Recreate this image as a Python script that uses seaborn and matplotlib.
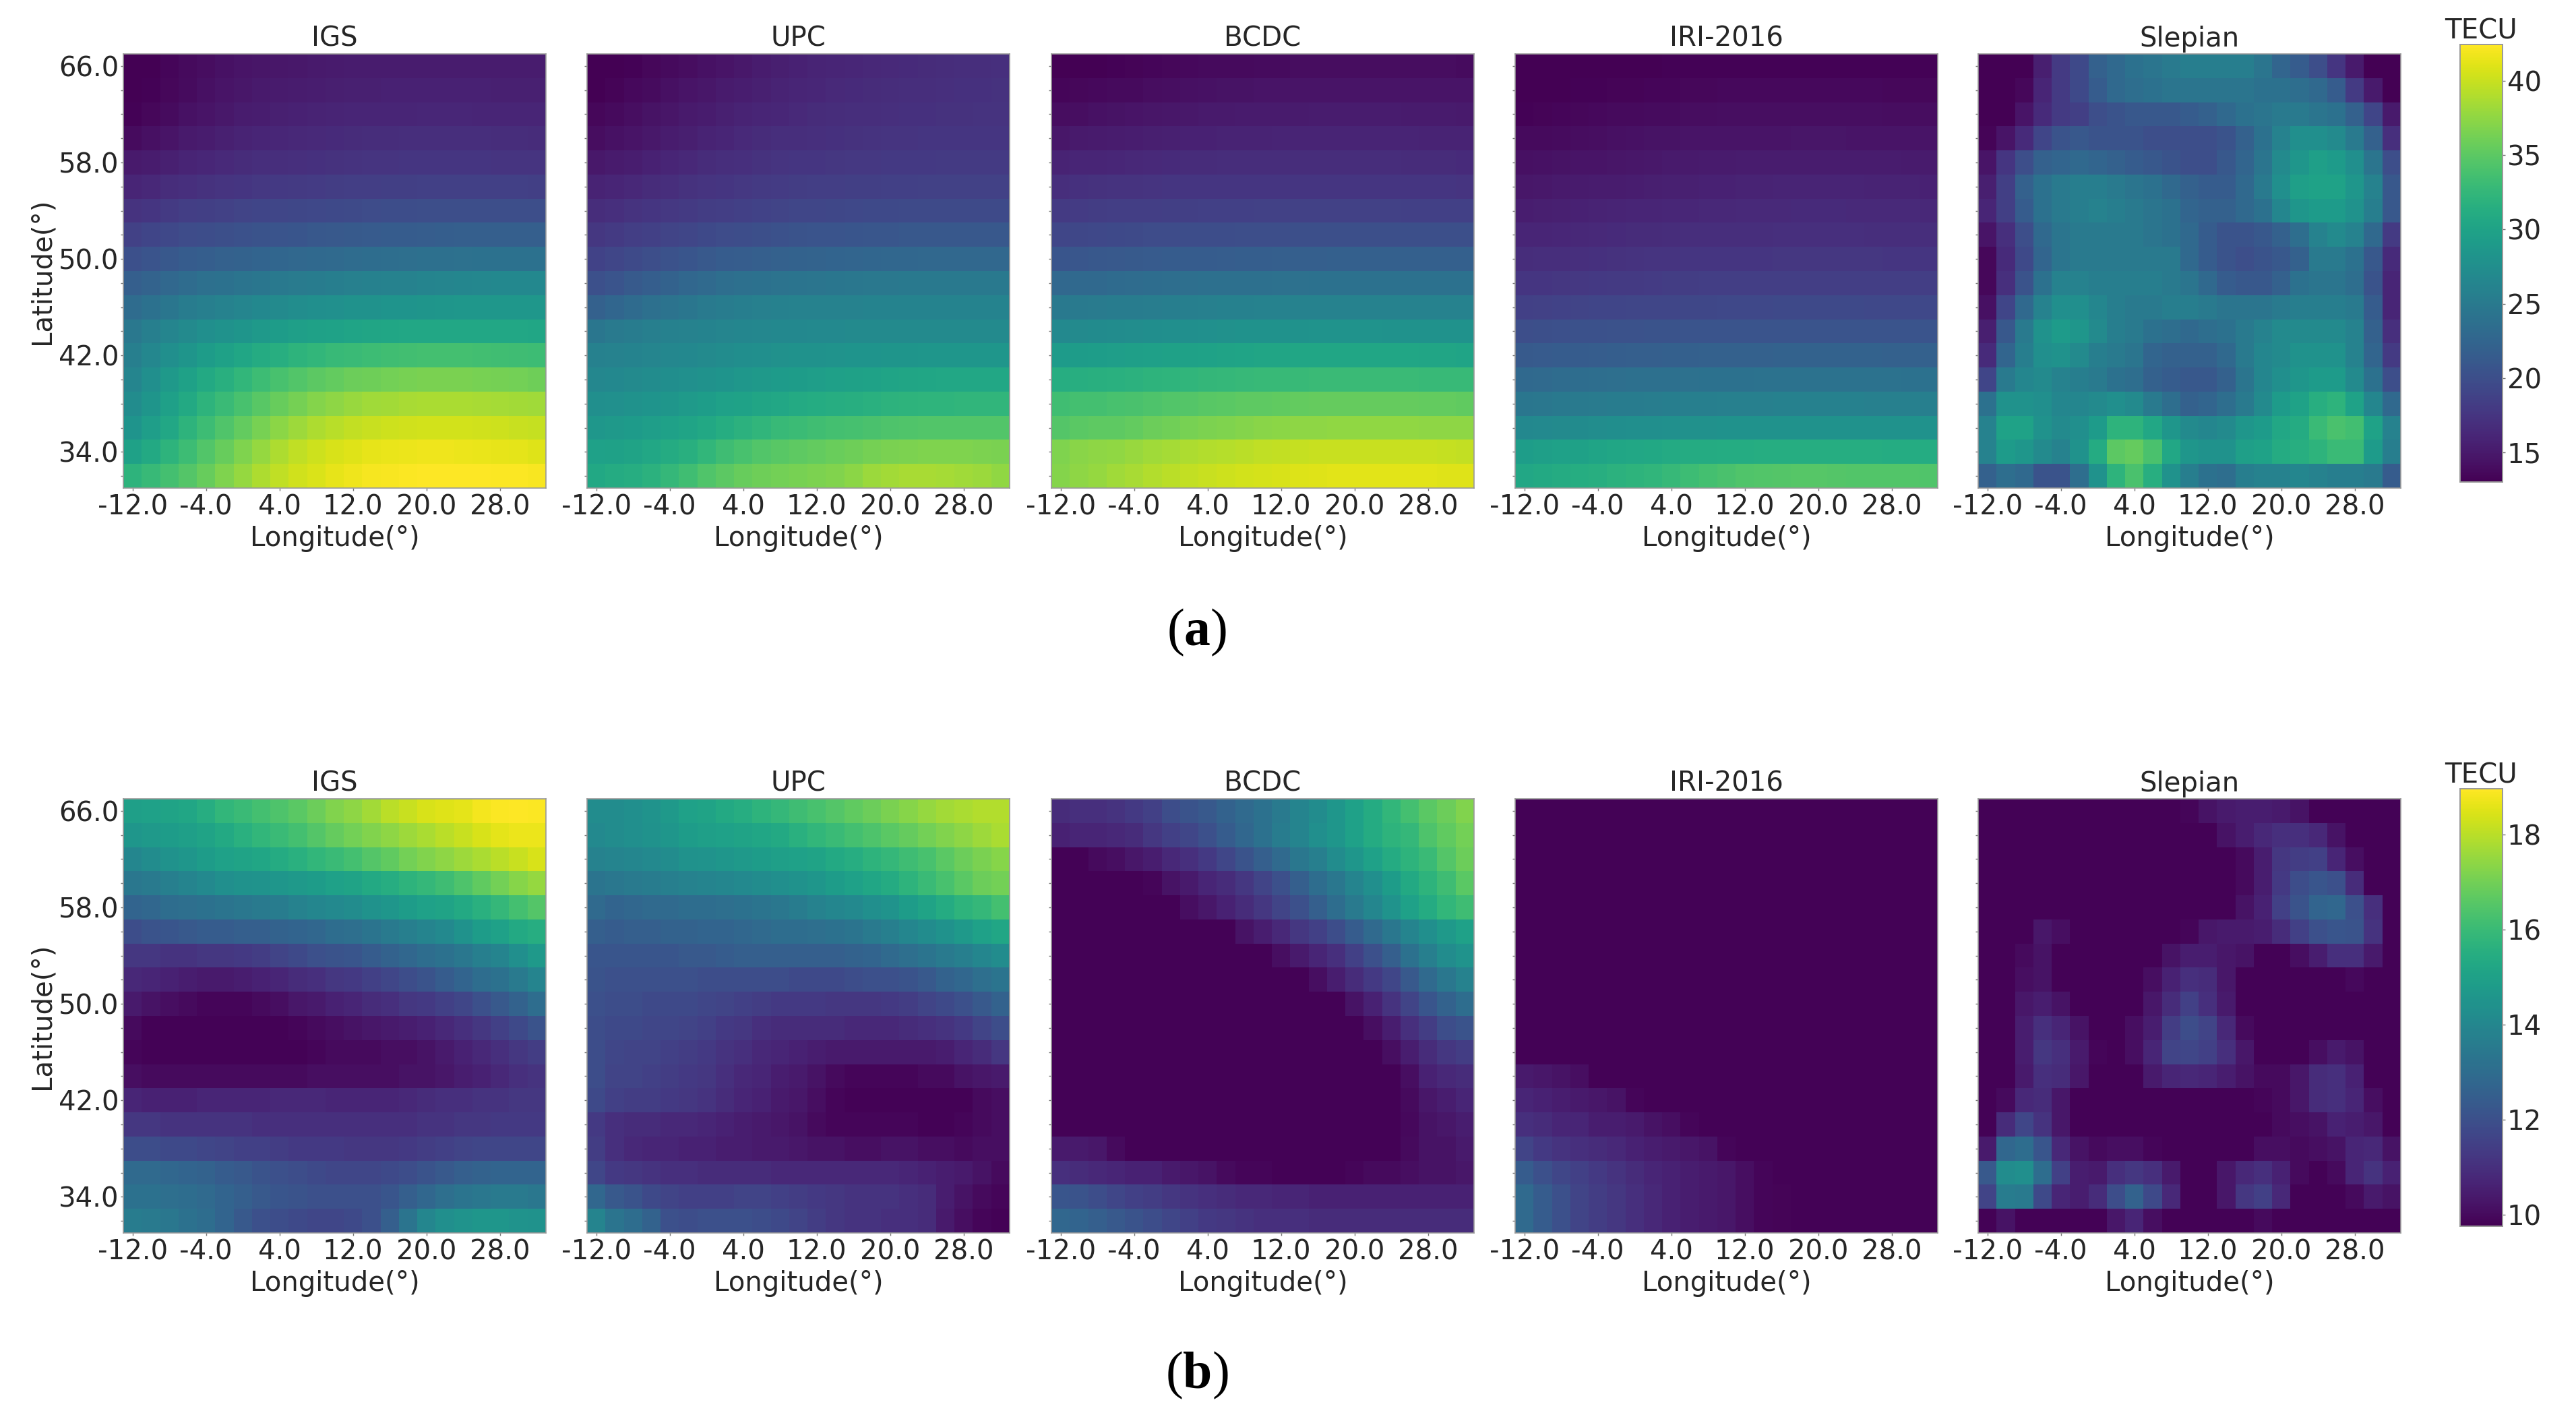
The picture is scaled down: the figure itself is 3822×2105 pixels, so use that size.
import matplotlib
matplotlib.use("Agg")
import matplotlib.pyplot as plt
import numpy as np
import pandas as pd
import seaborn as sns

sns.set_theme(style="white")
plt.rcParams["font.family"] = "DejaVu Sans"
plt.rcParams["mathtext.fontset"] = "custom"
plt.rcParams["mathtext.bf"] = "Liberation Serif:bold"
plt.rcParams["mathtext.rm"] = "Liberation Serif"

W, H = 3823, 2105
TEXT = "#262626"
FS = 29

LONS = [-12.0, -10.0, -8.0, -6.0, -4.0, -2.0, 0.0, 2.0, 4.0, 6.0, 8.0, 10.0, 12.0,
        14.0, 16.0, 18.0, 20.0, 22.0, 24.0, 26.0, 28.0, 30.0, 32.0]
LATS = [66.0, 64.0, 62.0, 60.0, 58.0, 56.0, 54.0, 52.0, 50.0, 48.0, 46.0, 44.0, 42.0,
        40.0, 38.0, 36.0, 34.0, 32.0]
TITLES = ["IGS", "UPC", "BCDC", "IRI-2016", "Slepian"]
CBAR_TICKS_A = [15, 20, 25, 30, 35, 40]
CBAR_TICKS_B = [10, 12, 14, 16, 18]

IGS_A = [
    [13.0, 13.1, 13.4, 13.7, 14.0, 14.3, 14.5, 14.7, 14.8, 14.9, 15.0, 15.1, 15.2, 15.2, 15.3, 15.3, 15.3, 15.3, 15.3, 15.3, 15.2, 15.2, 15.2],
    [13.0, 13.2, 13.5, 13.9, 14.2, 14.5, 14.8, 15.0, 15.1, 15.2, 15.4, 15.5, 15.6, 15.6, 15.7, 15.7, 15.7, 15.7, 15.7, 15.7, 15.6, 15.6, 15.6],
    [13.2, 13.5, 13.9, 14.3, 14.6, 14.9, 15.2, 15.4, 15.6, 15.7, 15.8, 15.9, 16.0, 16.1, 16.1, 16.1, 16.2, 16.2, 16.2, 16.1, 16.1, 16.1, 16.0],
    [13.9, 14.2, 14.6, 15.0, 15.3, 15.6, 15.8, 16.0, 16.2, 16.3, 16.4, 16.5, 16.6, 16.7, 16.7, 16.8, 16.8, 16.8, 16.8, 16.8, 16.7, 16.7, 16.6],
    [15.0, 15.3, 15.6, 15.9, 16.2, 16.4, 16.6, 16.8, 16.9, 17.0, 17.1, 17.2, 17.3, 17.4, 17.4, 17.5, 17.5, 17.5, 17.5, 17.5, 17.4, 17.4, 17.4],
    [16.0, 16.3, 16.7, 17.0, 17.2, 17.4, 17.6, 17.8, 17.9, 18.0, 18.1, 18.2, 18.3, 18.4, 18.5, 18.5, 18.6, 18.6, 18.6, 18.6, 18.6, 18.6, 18.5],
    [17.3, 17.6, 18.0, 18.3, 18.5, 18.7, 18.9, 19.0, 19.2, 19.3, 19.4, 19.5, 19.6, 19.7, 19.8, 19.9, 20.0, 20.0, 20.0, 20.0, 20.0, 20.0, 20.0],
    [18.7, 19.0, 19.4, 19.7, 19.9, 20.1, 20.3, 20.5, 20.7, 20.8, 21.0, 21.1, 21.2, 21.3, 21.4, 21.5, 21.6, 21.7, 21.8, 21.8, 21.8, 21.8, 21.8],
    [20.2, 20.6, 21.0, 21.4, 21.7, 22.0, 22.2, 22.4, 22.6, 22.8, 23.0, 23.1, 23.3, 23.4, 23.5, 23.6, 23.7, 23.8, 23.9, 24.0, 24.0, 24.0, 24.0],
    [21.8, 22.3, 22.8, 23.3, 23.7, 24.0, 24.3, 24.6, 24.9, 25.1, 25.3, 25.5, 25.7, 25.8, 26.0, 26.1, 26.3, 26.4, 26.5, 26.6, 26.7, 26.7, 26.7],
    [23.3, 24.0, 24.6, 25.2, 25.6, 26.0, 26.4, 26.7, 27.0, 27.3, 27.5, 27.7, 27.9, 28.0, 28.2, 28.3, 28.4, 28.5, 28.6, 28.6, 28.6, 28.6, 28.6],
    [24.8, 25.6, 26.4, 27.0, 27.5, 28.0, 28.4, 28.8, 29.2, 29.5, 29.8, 30.0, 30.2, 30.3, 30.4, 30.5, 30.6, 30.6, 30.6, 30.6, 30.5, 30.5, 30.4],
    [25.6, 26.6, 27.6, 28.4, 29.2, 29.8, 30.4, 31.0, 31.5, 32.0, 32.4, 32.8, 33.0, 33.2, 33.4, 33.5, 33.6, 33.6, 33.6, 33.5, 33.4, 33.3, 33.2],
    [26.4, 27.6, 28.8, 29.8, 30.8, 31.6, 32.4, 33.2, 33.9, 34.5, 35.0, 35.4, 35.8, 36.0, 36.2, 36.4, 36.5, 36.5, 36.5, 36.4, 36.3, 36.2, 36.0],
    [27.2, 28.4, 29.6, 30.8, 32.0, 33.0, 33.9, 34.8, 35.6, 36.3, 37.0, 37.5, 37.9, 38.2, 38.4, 38.6, 38.7, 38.7, 38.7, 38.6, 38.5, 38.4, 38.2],
    [28.2, 29.4, 30.6, 32.0, 33.2, 34.3, 35.4, 36.4, 37.3, 38.1, 38.8, 39.3, 39.7, 40.0, 40.2, 40.3, 40.4, 40.4, 40.4, 40.3, 40.2, 40.0, 39.9],
    [29.8, 30.8, 32.0, 33.2, 34.4, 35.6, 36.8, 37.8, 38.8, 39.6, 40.2, 40.7, 41.0, 41.3, 41.5, 41.6, 41.7, 41.7, 41.6, 41.5, 41.4, 41.2, 41.0],
    [32.0, 32.8, 33.6, 34.6, 35.6, 36.8, 37.8, 38.8, 39.6, 40.3, 40.8, 41.3, 41.7, 42.0, 42.2, 42.3, 42.4, 42.4, 42.4, 42.4, 42.3, 42.3, 42.2],
]
UPC_A = [
    [13.0, 13.0, 13.2, 13.5, 13.8, 14.0, 14.3, 14.6, 14.9, 15.2, 15.5, 15.7, 15.9, 16.1, 16.2, 16.3, 16.4, 16.5, 16.6, 16.7, 16.8, 16.9, 17.0],
    [13.1, 13.3, 13.6, 13.9, 14.2, 14.5, 14.8, 15.1, 15.4, 15.6, 15.8, 16.0, 16.2, 16.4, 16.5, 16.6, 16.7, 16.8, 16.9, 17.0, 17.1, 17.1, 17.2],
    [13.5, 13.8, 14.1, 14.4, 14.7, 15.0, 15.3, 15.6, 15.8, 16.0, 16.2, 16.4, 16.6, 16.7, 16.8, 16.9, 17.0, 17.1, 17.1, 17.2, 17.2, 17.3, 17.3],
    [14.0, 14.3, 14.6, 14.9, 15.2, 15.5, 15.8, 16.1, 16.4, 16.6, 16.8, 16.9, 17.0, 17.1, 17.2, 17.3, 17.4, 17.4, 17.5, 17.5, 17.5, 17.5, 17.6],
    [14.9, 15.1, 15.4, 15.7, 16.0, 16.3, 16.6, 16.8, 17.0, 17.2, 17.4, 17.5, 17.6, 17.7, 17.8, 17.8, 17.9, 17.9, 17.9, 18.0, 18.0, 18.0, 18.0],
    [15.8, 16.0, 16.3, 16.6, 16.9, 17.2, 17.4, 17.6, 17.8, 18.0, 18.1, 18.2, 18.3, 18.4, 18.5, 18.5, 18.6, 18.6, 18.7, 18.7, 18.7, 18.7, 18.7],
    [16.7, 17.0, 17.3, 17.6, 17.8, 18.0, 18.2, 18.4, 18.6, 18.8, 18.9, 19.1, 19.2, 19.3, 19.4, 19.5, 19.5, 19.6, 19.6, 19.6, 19.6, 19.6, 19.6],
    [17.7, 18.0, 18.3, 18.6, 18.9, 19.2, 19.5, 19.7, 19.9, 20.1, 20.3, 20.5, 20.6, 20.7, 20.8, 20.9, 20.9, 21.0, 21.0, 21.0, 21.0, 21.0, 21.0],
    [18.8, 19.2, 19.6, 20.0, 20.4, 20.8, 21.1, 21.4, 21.6, 21.8, 22.0, 22.1, 22.3, 22.4, 22.5, 22.6, 22.7, 22.7, 22.8, 22.8, 22.8, 22.8, 22.8],
    [20.2, 20.7, 21.2, 21.7, 22.2, 22.7, 23.1, 23.5, 23.8, 24.0, 24.2, 24.3, 24.5, 24.6, 24.7, 24.8, 24.8, 24.9, 24.9, 24.9, 24.9, 24.9, 24.9],
    [22.0, 22.6, 23.2, 23.7, 24.2, 24.6, 25.0, 25.3, 25.5, 25.7, 25.8, 25.9, 26.0, 26.1, 26.1, 26.2, 26.2, 26.2, 26.2, 26.2, 26.2, 26.2, 26.2],
    [24.6, 25.0, 25.3, 25.6, 25.8, 26.0, 26.2, 26.4, 26.5, 26.6, 26.7, 26.8, 26.9, 26.9, 27.0, 27.0, 27.0, 27.0, 27.0, 27.0, 27.0, 27.0, 27.0],
    [25.8, 26.0, 26.2, 26.4, 26.6, 26.8, 27.0, 27.2, 27.4, 27.6, 27.8, 27.9, 28.0, 28.1, 28.2, 28.3, 28.4, 28.4, 28.5, 28.5, 28.5, 28.5, 28.5],
    [26.6, 26.8, 27.0, 27.2, 27.4, 27.7, 28.0, 28.3, 28.6, 28.8, 29.0, 29.2, 29.4, 29.6, 29.8, 30.0, 30.2, 30.3, 30.4, 30.5, 30.5, 30.5, 30.5],
    [27.5, 27.7, 28.0, 28.2, 28.5, 28.9, 29.3, 29.7, 30.0, 30.3, 30.6, 30.9, 31.1, 31.3, 31.5, 31.7, 31.9, 32.0, 32.1, 32.2, 32.3, 32.3, 32.3],
    [28.6, 28.8, 29.1, 29.4, 29.7, 30.2, 30.7, 31.2, 31.8, 32.3, 32.8, 33.1, 33.4, 33.6, 33.8, 34.0, 34.2, 34.3, 34.4, 34.5, 34.5, 34.5, 34.5],
    [29.7, 29.9, 30.1, 30.5, 31.0, 31.6, 32.4, 33.3, 33.9, 34.4, 34.8, 35.1, 35.4, 35.7, 36.0, 36.3, 36.5, 36.6, 36.7, 36.7, 36.7, 36.6, 36.5],
    [30.7, 31.0, 31.3, 31.8, 32.6, 33.4, 34.3, 35.0, 35.6, 36.0, 36.2, 36.4, 36.6, 36.9, 37.3, 38.0, 38.4, 38.6, 38.6, 38.5, 38.2, 38.0, 37.6],
]
BCDC_A = [
    [13.0, 13.0, 13.1, 13.2, 13.3, 13.4, 13.5, 13.6, 13.7, 13.8, 13.8, 13.9, 13.9, 14.0, 14.0, 14.0, 14.0, 14.0, 14.0, 14.0, 14.0, 14.0, 13.9],
    [13.4, 13.5, 13.6, 13.7, 13.8, 14.0, 14.1, 14.2, 14.3, 14.4, 14.4, 14.5, 14.5, 14.5, 14.6, 14.6, 14.6, 14.6, 14.6, 14.6, 14.6, 14.5, 14.5],
    [14.0, 14.1, 14.3, 14.4, 14.5, 14.7, 14.8, 14.9, 15.0, 15.0, 15.1, 15.1, 15.1, 15.1, 15.2, 15.2, 15.2, 15.2, 15.2, 15.1, 15.1, 15.1, 15.0],
    [14.8, 15.0, 15.1, 15.3, 15.4, 15.5, 15.6, 15.7, 15.7, 15.8, 15.8, 15.8, 15.9, 15.9, 15.9, 15.9, 15.9, 15.9, 15.9, 15.9, 15.8, 15.8, 15.8],
    [15.8, 16.0, 16.1, 16.2, 16.3, 16.4, 16.5, 16.6, 16.6, 16.7, 16.7, 16.7, 16.7, 16.7, 16.7, 16.7, 16.7, 16.7, 16.7, 16.6, 16.6, 16.6, 16.5],
    [16.9, 17.1, 17.2, 17.3, 17.3, 17.4, 17.5, 17.5, 17.6, 17.6, 17.6, 17.6, 17.6, 17.6, 17.6, 17.6, 17.6, 17.6, 17.5, 17.5, 17.5, 17.5, 17.4],
    [18.0, 18.1, 18.2, 18.3, 18.4, 18.4, 18.5, 18.5, 18.6, 18.6, 18.6, 18.7, 18.7, 18.7, 18.7, 18.7, 18.7, 18.7, 18.7, 18.6, 18.6, 18.6, 18.6],
    [19.2, 19.3, 19.4, 19.5, 19.6, 19.7, 19.7, 19.8, 19.9, 19.9, 20.0, 20.0, 20.0, 20.1, 20.1, 20.1, 20.1, 20.1, 20.1, 20.1, 20.1, 20.1, 20.1],
    [20.8, 20.9, 21.0, 21.1, 21.2, 21.3, 21.4, 21.5, 21.5, 21.6, 21.7, 21.7, 21.8, 21.8, 21.8, 21.9, 21.9, 21.9, 21.9, 21.9, 21.9, 21.9, 21.9],
    [22.8, 22.9, 23.0, 23.2, 23.3, 23.4, 23.5, 23.6, 23.7, 23.7, 23.8, 23.8, 23.9, 23.9, 24.0, 24.0, 24.0, 24.0, 24.0, 24.0, 24.0, 24.0, 24.0],
    [24.9, 25.0, 25.1, 25.2, 25.3, 25.4, 25.5, 25.6, 25.7, 25.8, 25.8, 25.9, 25.9, 26.0, 26.0, 26.0, 26.1, 26.1, 26.1, 26.0, 26.0, 26.0, 26.0],
    [26.9, 27.0, 27.1, 27.2, 27.3, 27.4, 27.5, 27.6, 27.7, 27.8, 27.9, 27.9, 28.0, 28.0, 28.1, 28.1, 28.1, 28.1, 28.0, 28.0, 28.0, 28.0, 27.9],
    [29.1, 29.2, 29.3, 29.4, 29.5, 29.6, 29.8, 29.9, 30.0, 30.1, 30.2, 30.3, 30.3, 30.4, 30.4, 30.4, 30.4, 30.4, 30.4, 30.4, 30.3, 30.3, 30.2],
    [31.3, 31.5, 31.6, 31.7, 31.8, 32.0, 32.2, 32.3, 32.5, 32.6, 32.7, 32.8, 32.9, 32.9, 33.0, 33.0, 33.0, 33.0, 33.0, 33.0, 32.9, 32.9, 32.8],
    [33.4, 33.6, 33.7, 33.9, 34.0, 34.2, 34.4, 34.6, 34.8, 34.9, 35.1, 35.2, 35.3, 35.4, 35.5, 35.5, 35.5, 35.5, 35.5, 35.5, 35.4, 35.4, 35.3],
    [34.6, 34.9, 35.1, 35.2, 35.4, 35.8, 36.1, 36.4, 36.6, 36.8, 37.0, 37.2, 37.3, 37.4, 37.5, 37.6, 37.6, 37.6, 37.6, 37.6, 37.5, 37.5, 37.4],
    [36.8, 37.2, 37.4, 37.6, 37.9, 38.2, 38.5, 38.8, 39.0, 39.2, 39.4, 39.6, 39.7, 39.9, 40.0, 40.0, 40.0, 40.0, 40.0, 40.0, 40.0, 39.9, 39.8],
    [37.0, 37.4, 37.8, 38.2, 38.6, 39.0, 39.4, 39.7, 40.0, 40.2, 40.4, 40.6, 40.7, 40.9, 41.0, 41.1, 41.1, 41.1, 41.1, 41.1, 41.1, 41.0, 41.0],
]
IRI_A = [
    [13.0, 13.0, 13.0, 13.0, 13.0, 13.1, 13.1, 13.1, 13.2, 13.2, 13.2, 13.2, 13.2, 13.2, 13.2, 13.2, 13.2, 13.2, 13.2, 13.2, 13.2, 13.2, 13.2],
    [13.1, 13.1, 13.1, 13.2, 13.2, 13.3, 13.3, 13.4, 13.4, 13.5, 13.5, 13.6, 13.6, 13.6, 13.6, 13.6, 13.6, 13.6, 13.6, 13.6, 13.5, 13.5, 13.5],
    [13.2, 13.3, 13.4, 13.5, 13.6, 13.7, 13.8, 13.9, 13.9, 14.0, 14.0, 14.1, 14.1, 14.1, 14.1, 14.1, 14.1, 14.1, 14.1, 14.1, 14.0, 14.0, 14.0],
    [13.7, 13.8, 13.9, 14.0, 14.1, 14.2, 14.3, 14.4, 14.4, 14.5, 14.5, 14.6, 14.6, 14.6, 14.6, 14.7, 14.7, 14.7, 14.6, 14.6, 14.6, 14.6, 14.5],
    [14.2, 14.3, 14.4, 14.5, 14.6, 14.7, 14.8, 14.9, 15.0, 15.0, 15.1, 15.1, 15.2, 15.2, 15.2, 15.2, 15.3, 15.2, 15.2, 15.2, 15.2, 15.1, 15.1],
    [14.8, 14.9, 15.0, 15.1, 15.2, 15.3, 15.4, 15.5, 15.6, 15.6, 15.7, 15.7, 15.8, 15.8, 15.9, 15.9, 15.9, 15.9, 15.9, 15.8, 15.8, 15.8, 15.7],
    [15.4, 15.5, 15.6, 15.7, 15.8, 15.9, 16.0, 16.1, 16.2, 16.2, 16.3, 16.3, 16.4, 16.4, 16.4, 16.5, 16.5, 16.5, 16.4, 16.4, 16.4, 16.4, 16.3],
    [16.0, 16.1, 16.2, 16.3, 16.4, 16.5, 16.6, 16.6, 16.7, 16.8, 16.8, 16.9, 16.9, 16.9, 17.0, 17.0, 17.0, 17.0, 17.0, 16.9, 16.9, 16.9, 16.8],
    [16.7, 16.8, 16.9, 17.0, 17.1, 17.2, 17.3, 17.4, 17.4, 17.5, 17.5, 17.6, 17.6, 17.6, 17.7, 17.7, 17.7, 17.7, 17.7, 17.7, 17.6, 17.6, 17.6],
    [17.5, 17.6, 17.7, 17.8, 17.9, 18.0, 18.0, 18.1, 18.2, 18.2, 18.3, 18.3, 18.3, 18.4, 18.4, 18.4, 18.4, 18.4, 18.4, 18.4, 18.4, 18.3, 18.3],
    [18.6, 18.7, 18.8, 18.9, 19.0, 19.0, 19.1, 19.2, 19.2, 19.3, 19.3, 19.4, 19.4, 19.4, 19.5, 19.5, 19.5, 19.5, 19.5, 19.4, 19.4, 19.4, 19.4],
    [20.0, 20.1, 20.2, 20.3, 20.3, 20.4, 20.4, 20.5, 20.5, 20.6, 20.6, 20.6, 20.7, 20.7, 20.7, 20.7, 20.7, 20.7, 20.7, 20.7, 20.7, 20.7, 20.6],
    [21.2, 21.3, 21.4, 21.5, 21.6, 21.7, 21.8, 21.8, 21.9, 21.9, 22.0, 22.0, 22.0, 22.0, 22.1, 22.1, 22.1, 22.1, 22.1, 22.1, 22.0, 22.0, 22.0],
    [23.0, 23.1, 23.3, 23.4, 23.5, 23.6, 23.7, 23.8, 23.8, 23.9, 24.0, 24.0, 24.0, 24.1, 24.1, 24.1, 24.1, 24.1, 24.1, 24.1, 24.1, 24.0, 24.0],
    [24.6, 24.7, 24.9, 25.0, 25.1, 25.2, 25.3, 25.4, 25.5, 25.6, 25.6, 25.7, 25.7, 25.7, 25.8, 25.8, 25.8, 25.8, 25.8, 25.7, 25.7, 25.7, 25.6],
    [26.8, 26.9, 27.0, 27.1, 27.3, 27.4, 27.5, 27.6, 27.7, 27.8, 27.8, 27.9, 27.9, 28.0, 28.0, 28.0, 28.0, 28.0, 28.0, 28.0, 28.0, 27.9, 27.9],
    [29.3, 29.5, 29.7, 29.9, 30.2, 30.4, 30.6, 30.7, 30.9, 31.0, 31.0, 31.1, 31.1, 31.2, 31.2, 31.2, 31.2, 31.2, 31.2, 31.2, 31.1, 31.1, 31.1],
    [30.6, 30.8, 31.0, 31.2, 31.5, 31.8, 32.0, 32.3, 32.7, 33.2, 33.6, 34.0, 34.3, 34.5, 34.6, 34.7, 34.7, 34.6, 34.5, 34.5, 34.4, 34.4, 34.3],
]
SLEPIAN_A = [
    [13.0, 13.0, 13.0, 15.5, 18.0, 19.5, 22.0, 23.0, 24.0, 24.5, 25.0, 25.5, 25.5, 25.5, 25.5, 24.5, 22.5, 21.5, 20.0, 17.5, 15.0, 13.0, 13.0],
    [13.0, 13.0, 13.5, 16.0, 18.0, 19.5, 21.5, 23.0, 23.5, 24.0, 24.5, 24.5, 24.5, 24.5, 24.5, 24.0, 24.0, 23.5, 23.0, 21.5, 18.0, 15.0, 13.0],
    [13.0, 13.0, 14.5, 16.5, 18.0, 18.5, 20.0, 20.5, 21.0, 21.0, 21.0, 21.5, 22.0, 23.0, 24.0, 24.5, 25.0, 25.0, 24.5, 24.0, 22.0, 19.0, 15.0],
    [13.3, 14.5, 16.5, 19.0, 20.5, 21.0, 20.5, 20.5, 20.5, 20.0, 20.0, 20.0, 20.0, 20.5, 22.0, 24.0, 26.0, 27.5, 27.5, 27.0, 25.0, 22.0, 17.0],
    [14.5, 17.5, 20.0, 22.0, 22.5, 23.0, 22.5, 22.0, 21.5, 21.0, 20.5, 20.0, 20.0, 21.0, 22.5, 24.5, 27.0, 28.5, 29.5, 29.0, 27.5, 24.5, 20.0],
    [15.5, 18.5, 22.0, 24.0, 25.0, 25.5, 25.5, 25.0, 24.5, 24.0, 23.0, 22.0, 21.5, 21.5, 23.0, 25.0, 27.5, 29.5, 30.0, 30.0, 28.5, 26.0, 21.0],
    [16.0, 18.5, 21.5, 24.0, 25.0, 25.5, 26.0, 25.5, 25.0, 24.5, 24.0, 22.5, 22.0, 22.0, 23.0, 24.0, 26.5, 28.5, 29.0, 29.0, 28.0, 25.5, 21.0],
    [14.5, 17.0, 20.0, 23.0, 24.5, 25.0, 25.0, 25.0, 25.0, 24.5, 24.0, 23.0, 21.5, 20.5, 20.5, 21.0, 22.0, 23.5, 26.0, 27.0, 26.0, 23.0, 18.0],
    [13.5, 16.5, 19.5, 22.5, 24.5, 25.0, 25.0, 25.0, 25.0, 25.0, 25.0, 23.0, 21.5, 20.5, 20.0, 20.5, 21.0, 22.0, 25.0, 25.0, 24.0, 21.0, 16.5],
    [13.5, 17.0, 20.5, 24.0, 26.0, 26.0, 25.5, 25.5, 25.5, 25.5, 25.0, 24.5, 23.0, 21.5, 21.0, 21.0, 22.0, 24.0, 24.5, 24.5, 23.5, 20.5, 16.0],
    [14.2, 19.0, 23.0, 26.0, 27.5, 27.5, 26.5, 25.5, 25.0, 25.0, 25.5, 25.5, 25.0, 24.5, 24.5, 24.5, 25.0, 25.5, 25.5, 25.5, 25.0, 21.5, 16.0],
    [15.5, 21.0, 25.0, 28.0, 29.0, 28.5, 27.0, 25.5, 25.0, 24.0, 23.5, 23.0, 23.5, 24.0, 25.0, 26.0, 27.0, 27.0, 27.0, 27.0, 26.0, 22.0, 17.0],
    [16.5, 22.5, 25.5, 27.5, 28.0, 27.0, 25.5, 25.0, 24.5, 22.5, 22.0, 22.0, 22.0, 23.0, 25.0, 26.5, 27.0, 28.0, 28.0, 28.0, 26.0, 22.5, 18.0],
    [19.0, 25.0, 26.5, 27.0, 26.0, 25.5, 25.0, 24.0, 23.5, 22.0, 21.5, 21.0, 21.0, 22.0, 24.5, 26.5, 27.5, 28.5, 29.0, 29.0, 27.0, 24.0, 20.0],
    [24.0, 28.0, 28.0, 27.5, 26.5, 26.5, 27.0, 27.5, 27.0, 25.0, 23.5, 22.0, 22.5, 23.5, 25.0, 27.0, 29.0, 30.0, 31.5, 32.0, 30.0, 26.5, 23.0],
    [26.0, 30.0, 30.0, 28.0, 27.0, 27.5, 29.0, 32.0, 32.0, 30.5, 28.5, 27.0, 26.5, 27.0, 28.5, 29.0, 30.5, 31.0, 33.0, 34.0, 33.5, 30.0, 26.0],
    [26.0, 29.0, 28.5, 27.0, 26.0, 28.0, 31.0, 35.0, 35.5, 34.0, 30.5, 28.5, 28.0, 28.0, 29.5, 30.0, 31.0, 31.5, 32.0, 33.0, 33.0, 29.0, 25.5],
    [22.0, 23.5, 23.0, 20.5, 20.5, 23.5, 28.0, 32.0, 34.0, 31.5, 28.0, 25.5, 24.0, 23.5, 25.5, 26.0, 26.0, 26.5, 26.0, 25.5, 25.5, 25.0, 21.5],
]

IGS_B = [
    [14.9, 15.0, 15.1, 15.2, 15.5, 15.8, 16.0, 16.2, 16.4, 16.6, 16.9, 17.2, 17.4, 17.7, 18.0, 18.2, 18.4, 18.5, 18.6, 18.8, 18.9, 18.95, 18.9],
    [14.6, 14.7, 14.8, 14.9, 15.1, 15.3, 15.6, 15.8, 16.0, 16.2, 16.5, 16.8, 17.0, 17.2, 17.4, 17.6, 17.8, 18.0, 18.2, 18.4, 18.6, 18.7, 18.7],
    [14.0, 14.2, 14.4, 14.6, 14.8, 15.0, 15.1, 15.2, 15.4, 15.6, 15.8, 16.0, 16.2, 16.5, 16.7, 17.0, 17.2, 17.4, 17.6, 17.8, 18.0, 18.2, 18.4],
    [13.4, 13.5, 13.7, 13.9, 14.1, 14.3, 14.4, 14.5, 14.6, 14.7, 14.8, 15.0, 15.1, 15.3, 15.5, 15.7, 15.9, 16.1, 16.4, 16.7, 17.0, 17.3, 17.5],
    [12.7, 12.8, 13.0, 13.1, 13.2, 13.3, 13.4, 13.5, 13.6, 13.8, 14.0, 14.1, 14.2, 14.4, 14.6, 14.8, 15.0, 15.1, 15.3, 15.6, 15.9, 16.2, 16.5],
    [11.9, 12.1, 12.2, 12.3, 12.4, 12.4, 12.5, 12.5, 12.6, 12.7, 12.8, 13.0, 13.1, 13.3, 13.5, 13.7, 13.9, 14.1, 14.4, 14.8, 15.0, 15.3, 15.5],
    [11.2, 11.2, 11.1, 11.1, 11.2, 11.2, 11.3, 11.4, 11.6, 11.8, 12.0, 12.1, 12.2, 12.4, 12.6, 12.8, 13.0, 13.2, 13.4, 13.7, 13.9, 14.3, 14.7],
    [10.8, 10.7, 10.6, 10.5, 10.4, 10.4, 10.5, 10.6, 10.7, 10.9, 11.0, 11.2, 11.3, 11.5, 11.7, 11.9, 12.1, 12.4, 12.7, 13.0, 13.2, 13.5, 13.9],
    [10.4, 10.2, 10.1, 10.0, 9.9, 9.9, 9.9, 10.0, 10.1, 10.3, 10.4, 10.6, 10.7, 10.9, 11.0, 11.2, 11.3, 11.5, 11.7, 12.0, 12.3, 12.6, 13.0],
    [10.0, 9.8, 9.8, 9.8, 9.8, 9.8, 9.8, 9.8, 9.8, 9.9, 10.0, 10.1, 10.2, 10.3, 10.4, 10.5, 10.6, 10.8, 11.0, 11.2, 11.5, 11.8, 12.1],
    [9.9, 9.8, 9.8, 9.8, 9.8, 9.8, 9.8, 9.8, 9.8, 9.8, 9.9, 10.0, 10.0, 10.0, 10.1, 10.1, 10.2, 10.4, 10.6, 10.8, 11.0, 11.2, 11.4],
    [10.1, 10.0, 10.0, 10.0, 10.0, 10.0, 10.0, 10.0, 10.0, 10.0, 10.1, 10.1, 10.1, 10.1, 10.1, 10.2, 10.2, 10.3, 10.5, 10.6, 10.8, 11.0, 11.1],
    [10.7, 10.6, 10.6, 10.6, 10.7, 10.7, 10.7, 10.7, 10.8, 10.8, 10.8, 10.7, 10.7, 10.7, 10.7, 10.8, 10.9, 11.0, 11.0, 11.1, 11.1, 11.2, 11.2],
    [11.2, 11.2, 11.1, 11.1, 11.1, 11.1, 11.1, 11.0, 11.0, 11.0, 11.0, 11.0, 11.0, 11.0, 11.0, 11.0, 11.1, 11.1, 11.2, 11.2, 11.3, 11.3, 11.3],
    [11.9, 11.9, 11.8, 11.8, 11.7, 11.6, 11.5, 11.5, 11.4, 11.3, 11.3, 11.3, 11.2, 11.2, 11.2, 11.3, 11.4, 11.5, 11.6, 11.7, 11.7, 11.7, 11.7],
    [12.9, 12.9, 12.8, 12.7, 12.6, 12.4, 12.3, 12.1, 12.0, 11.9, 11.8, 11.7, 11.7, 11.7, 11.8, 11.9, 12.1, 12.3, 12.5, 12.6, 12.7, 12.7, 12.7],
    [13.2, 13.2, 13.1, 13.0, 12.9, 12.7, 12.5, 12.3, 12.2, 12.1, 12.0, 12.0, 12.0, 12.0, 12.2, 12.5, 12.8, 13.1, 13.3, 13.4, 13.5, 13.5, 13.4],
    [13.6, 13.5, 13.4, 13.2, 13.0, 12.7, 12.3, 12.0, 11.9, 11.8, 11.7, 11.7, 11.8, 12.0, 12.5, 13.3, 14.0, 14.3, 14.5, 14.6, 14.6, 14.5, 14.4],
]
UPC_B = [
    [14.2, 14.2, 14.3, 14.5, 14.7, 15.0, 15.1, 15.3, 15.5, 15.7, 15.9, 16.1, 16.3, 16.5, 16.7, 16.9, 17.1, 17.3, 17.5, 17.7, 17.8, 17.9, 17.9],
    [14.1, 14.2, 14.3, 14.4, 14.6, 14.8, 14.9, 15.0, 15.1, 15.2, 15.3, 15.6, 15.8, 16.0, 16.2, 16.4, 16.6, 16.8, 17.0, 17.2, 17.4, 17.6, 17.8],
    [13.8, 13.9, 14.0, 14.1, 14.2, 14.4, 14.5, 14.6, 14.7, 14.8, 14.9, 15.0, 15.1, 15.3, 15.5, 15.7, 15.9, 16.1, 16.3, 16.6, 16.9, 17.1, 17.3],
    [13.3, 13.4, 13.5, 13.6, 13.7, 13.8, 13.9, 14.0, 14.1, 14.2, 14.3, 14.4, 14.6, 14.8, 15.0, 15.2, 15.4, 15.7, 16.0, 16.3, 16.6, 16.9, 17.0],
    [12.9, 12.7, 12.8, 12.9, 12.9, 13.0, 13.0, 13.1, 13.2, 13.3, 13.4, 13.6, 13.8, 14.0, 14.1, 14.3, 14.5, 14.8, 15.1, 15.4, 15.7, 15.9, 16.2],
    [12.5, 12.4, 12.5, 12.5, 12.6, 12.6, 12.7, 12.7, 12.8, 12.9, 13.0, 13.0, 13.1, 13.2, 13.3, 13.5, 13.7, 14.0, 14.2, 14.4, 14.7, 15.0, 15.2],
    [12.2, 12.2, 12.2, 12.2, 12.2, 12.3, 12.3, 12.4, 12.5, 12.5, 12.5, 12.5, 12.5, 12.5, 12.6, 12.7, 12.9, 13.1, 13.3, 13.5, 13.7, 14.0, 14.2],
    [12.1, 12.0, 12.0, 12.0, 12.0, 12.0, 11.9, 11.9, 11.9, 11.9, 11.9, 11.8, 11.8, 11.8, 11.9, 12.0, 12.0, 12.1, 12.3, 12.6, 12.8, 13.1, 13.3],
    [12.0, 11.9, 11.9, 11.8, 11.8, 11.8, 11.7, 11.6, 11.5, 11.4, 11.3, 11.3, 11.3, 11.2, 11.2, 11.2, 11.3, 11.4, 11.6, 11.8, 12.0, 12.3, 12.6],
    [11.9, 11.8, 11.8, 11.7, 11.7, 11.6, 11.5, 11.3, 11.2, 11.0, 10.9, 10.9, 10.9, 10.9, 10.8, 10.8, 10.8, 10.9, 11.0, 11.1, 11.3, 11.6, 11.9],
    [11.9, 11.7, 11.6, 11.6, 11.5, 11.4, 11.3, 11.1, 11.0, 10.8, 10.7, 10.6, 10.5, 10.4, 10.4, 10.4, 10.4, 10.4, 10.4, 10.5, 10.7, 10.9, 11.2],
    [11.9, 11.6, 11.6, 11.5, 11.4, 11.3, 11.2, 11.0, 10.8, 10.7, 10.5, 10.4, 10.2, 10.0, 9.9, 9.9, 9.9, 9.9, 10.0, 10.0, 10.2, 10.3, 10.4],
    [11.8, 11.5, 11.4, 11.4, 11.3, 11.2, 11.1, 10.9, 10.7, 10.6, 10.4, 10.3, 10.1, 9.9, 9.8, 9.8, 9.8, 9.8, 9.8, 9.8, 9.8, 10.0, 10.1],
    [11.3, 11.0, 10.9, 10.9, 10.8, 10.8, 10.7, 10.6, 10.5, 10.4, 10.3, 10.2, 10.0, 9.9, 9.9, 9.9, 9.9, 9.9, 9.8, 9.8, 9.9, 10.0, 10.1],
    [11.4, 11.0, 10.8, 10.7, 10.7, 10.6, 10.6, 10.5, 10.5, 10.4, 10.4, 10.3, 10.2, 10.2, 10.1, 10.1, 10.2, 10.2, 10.1, 10.1, 10.0, 10.1, 10.1],
    [11.7, 11.3, 11.2, 11.1, 11.0, 11.0, 10.9, 10.9, 10.9, 10.9, 10.8, 10.8, 10.8, 10.8, 10.8, 10.8, 10.8, 10.7, 10.6, 10.5, 10.4, 10.2, 10.0],
    [12.8, 12.3, 12.1, 11.8, 11.6, 11.5, 11.5, 11.5, 11.6, 11.6, 11.5, 11.4, 11.3, 11.2, 11.1, 11.1, 11.1, 11.0, 10.9, 10.5, 10.2, 10.0, 9.9],
    [13.9, 13.3, 13.0, 12.6, 12.0, 11.9, 12.0, 12.0, 12.0, 11.9, 11.8, 11.6, 11.4, 11.2, 11.1, 11.1, 11.0, 11.0, 10.9, 10.4, 10.1, 9.9, 9.8],
]
BCDC_B = [
    [10.9, 11.0, 11.0, 11.1, 11.3, 11.5, 11.9, 12.1, 12.3, 12.6, 12.9, 13.2, 13.5, 13.9, 14.2, 14.6, 15.0, 15.4, 15.8, 16.2, 16.6, 16.9, 17.2],
    [10.6, 10.7, 10.7, 10.8, 10.9, 11.2, 11.5, 11.7, 12.0, 12.4, 12.8, 13.2, 13.6, 13.9, 14.3, 14.6, 15.0, 15.4, 15.7, 15.9, 16.4, 16.7, 17.0],
    [9.8] * 2 + [10.0, 10.1, 10.3, 10.5, 10.8, 11.0, 11.3, 11.7, 12.1, 12.5, 12.9, 13.4, 13.7, 14.2, 14.6, 15.0, 15.4, 15.7, 16.0, 16.5, 16.9],
    [9.8] * 5 + [9.9, 10.2, 10.4, 10.7, 10.9, 11.2, 11.6, 12.0, 12.5, 13.0, 13.4, 13.9, 14.3, 14.8, 15.3, 15.7, 16.1, 16.6],
    [9.8] * 7 + [10.1, 10.3, 10.6, 10.9, 11.2, 11.6, 12.0, 12.5, 13.0, 13.5, 14.0, 14.5, 15.0, 15.4, 15.8, 16.1],
    [9.8] * 10 + [10.2, 10.5, 10.8, 11.2, 11.5, 11.9, 12.4, 12.9, 13.4, 13.9, 14.3, 14.7, 15.0],
    [9.8] * 12 + [10.1, 10.4, 10.7, 11.0, 11.5, 12.0, 12.5, 13.2, 13.7, 14.2, 14.5],
    [9.8] * 14 + [10.1, 10.5, 10.9, 11.3, 11.7, 12.3, 12.9, 13.4, 13.8],
    [9.8] * 16 + [10.2, 10.6, 11.1, 11.6, 12.2, 12.6, 13.0],
    [9.8] * 17 + [10.1, 10.5, 11.0, 11.4, 11.9, 12.1],
    [9.8] * 18 + [10.1, 10.5, 10.9, 11.2, 11.4],
    [9.8] * 19 + [10.1, 10.6, 10.8, 10.9],
    [9.8] * 19 + [10.0, 10.3, 10.5, 10.7],
    [9.8] * 19 + [9.95, 10.2, 10.3, 10.5],
    [10.4, 10.4, 10.3, 10.0] + [9.8] * 15 + [10.0, 10.2, 10.2, 10.4],
    [11.0, 10.9, 10.8, 10.7, 10.6, 10.6, 10.4, 10.3, 10.2, 10.0, 9.9, 9.9, 9.8, 9.8, 9.8, 9.8, 9.9, 10.0, 10.0, 10.1, 10.2, 10.2, 10.3],
    [12.2, 12.1, 11.9, 11.7, 11.5, 11.4, 11.2, 11.1, 11.0, 10.9, 10.8, 10.8, 10.7, 10.7, 10.6, 10.6, 10.6, 10.6, 10.6, 10.6, 10.6, 10.6, 10.6],
    [12.8, 12.7, 12.5, 12.3, 12.1, 11.9, 11.7, 11.5, 11.3, 11.2, 11.1, 11.0, 11.0, 11.0, 10.9, 10.9, 10.9, 10.9, 10.9, 10.9, 10.9, 10.9, 10.9],
]
IRI_B = [
    [9.8] * 23, [9.8] * 23, [9.8] * 23, [9.8] * 23,
    [9.8] * 23, [9.8] * 23, [9.8] * 23, [9.8] * 23,
    [9.8] * 23, [9.8] * 23, [9.8] * 23,
    [10.4, 10.3, 10.2, 10.1] + [9.8] * 19,
    [10.7, 10.6, 10.5, 10.4, 10.3, 10.2, 9.9] + [9.8] * 16,
    [11.0, 10.9, 10.7, 10.7, 10.5, 10.5, 10.4, 10.2, 10.1, 9.9] + [9.8] * 13,
    [11.6, 11.3, 11.1, 11.0, 10.9, 10.8, 10.6, 10.5, 10.4, 10.3, 10.2, 9.9] + [9.8] * 11,
    [12.4, 12.0, 11.7, 11.5, 11.3, 11.1, 10.9, 10.7, 10.6, 10.5, 10.4, 10.3, 10.1, 9.9] + [9.8] * 9,
    [12.9, 12.4, 12.0, 11.6, 11.4, 11.2, 11.0, 10.8, 10.6, 10.5, 10.4, 10.3, 10.1, 9.9, 9.85] + [9.8] * 8,
    [12.9, 12.4, 12.0, 11.6, 11.4, 11.2, 11.0, 10.8, 10.6, 10.5, 10.4, 10.3, 10.1, 9.9, 9.85] + [9.8] * 8,
]
SLEPIAN_B = [
    [9.8] * 11 + [9.9, 10.2, 10.4, 10.5, 10.5, 10.4, 10.2] + [9.8] * 5,
    [9.8] * 13 + [10.2, 10.5, 10.8, 11.0, 11.0, 10.8, 10.2] + [9.8] * 3,
    [9.8] * 14 + [10.0, 10.5, 11.2, 11.4, 11.5, 10.7, 10.1] + [9.8] * 2,
    [9.8] * 14 + [10.0, 10.5, 11.3, 11.9, 12.2, 12.0, 10.9] + [9.8] * 2,
    [9.8] * 14 + [10.2, 10.6, 11.5, 12.1, 12.7, 12.8, 12.0, 11.0] + [9.8],
    [9.8] * 3 + [10.3, 10.1] + [9.8] * 6 + [9.9, 10.3, 10.4, 10.4, 10.5, 10.9, 11.5, 12.0, 12.2, 12.1, 11.1] + [9.8],
    [9.8] * 2 + [10.0, 10.2] + [9.8] * 6 + [10.2, 10.5, 10.5, 10.3, 10.2, 9.8, 9.8, 10.1, 10.5, 11.0, 11.0, 10.4] + [9.8],
    [9.8] * 2 + [10.1, 10.2] + [9.8] * 5 + [10.1, 10.6, 11.0, 10.9, 10.3] + [9.8] * 6 + [9.95] + [9.8] * 2,
    [9.8] * 2 + [10.3, 10.5, 10.2] + [9.8] * 4 + [10.3, 10.9, 11.5, 11.0, 10.4] + [9.8] * 9,
    [9.8] * 2 + [10.5, 11.0, 10.7, 10.2] + [9.8] * 2 + [10.1, 10.5, 11.4, 11.9, 11.6, 10.8, 10.0] + [9.8] * 8,
    [9.8] * 2 + [10.5, 11.2, 11.0, 10.4, 9.9, 9.8, 10.1, 10.7, 11.6, 11.7, 11.5, 11.0, 10.3] + [9.8] * 3 + [10.1, 10.4, 10.2] + [9.8] * 2,
    [9.8] * 2 + [10.4, 11.0, 10.9, 10.3] + [9.8] * 3 + [10.4, 10.7, 10.8, 10.7, 10.5, 10.2, 10.0, 10.0, 10.3, 10.9, 11.0, 10.6] + [9.8] * 2,
    [9.8, 10.0, 10.8, 10.9, 10.3] + [9.8] * 10 + [9.9, 10.0, 10.3, 10.9, 11.0, 10.7, 10.1, 9.8],
    [9.8, 10.9, 11.7, 11.1, 10.3] + [9.8] * 11 + [10.0, 10.1, 10.2, 10.6, 10.5, 10.3, 9.8],
    [10.4, 12.8, 13.0, 12.2, 10.8, 10.2, 10.0, 10.1, 10.1, 9.9] + [9.8] * 5 + [10.1, 10.1, 10.0, 10.1, 10.2, 10.7, 10.8, 10.2],
    [12.3, 14.2, 14.3, 13.0, 11.5, 10.5, 10.4, 11.0, 11.2, 11.0, 10.4, 9.8, 9.8, 10.3, 10.8, 11.0, 10.6, 10.0, 9.8, 10.0, 10.7, 11.1, 10.6],
    [11.6, 13.6, 13.5, 11.8, 10.7, 10.5, 10.9, 11.9, 12.6, 11.8, 10.8, 9.8, 9.8, 10.3, 11.2, 11.5, 10.8, 9.8, 9.8, 9.8, 10.0, 10.4, 10.2],
    [9.8, 10.2] + [9.8] * 5 + [10.3, 10.7, 10.1] + [9.8] * 5 + [10.0] + [9.8] * 7,
]

PANEL_LEFTS = [183, 871, 1560, 2248, 2935]
PANEL_W, PANEL_H = 627, 644


def px_axes(fig, left, top, width, height):
    return fig.add_axes([left / W, 1 - (top + height) / H, width / W, height / H])


def plot_row(fig, grids, top, vmin, vmax, cbar_ticks, cbar_top):
    cax = px_axes(fig, 3650, cbar_top, 63, 649)

    for i, (grid, title, left) in enumerate(zip(grids, TITLES, PANEL_LEFTS)):
        ax = px_axes(fig, left, top, PANEL_W, PANEL_H)
        df = pd.DataFrame(np.array(grid), index=LATS, columns=LONS)
        last = i == len(grids) - 1
        sns.heatmap(df, ax=ax, cmap="viridis", vmin=vmin, vmax=vmax, square=False,
                    cbar=last, cbar_ax=cax if last else None,
                    cbar_kws={"ticks": cbar_ticks} if last else None)

        ax.set_xticks(np.arange(0.5, len(LONS), 4))
        ax.set_xticklabels([f"{v:.1f}" for v in LONS[::4]], rotation=0, fontsize=FS, color=TEXT)
        ax.set_yticks(np.arange(0.5, len(LATS), 1))
        if i == 0:
            ax.set_yticklabels([f"{v:.1f}" if r % 4 == 0 else "" for r, v in enumerate(LATS)],
                               rotation=0, fontsize=FS, color=TEXT, va="center_baseline")
            ax.set_ylabel("Latitude(°)", fontsize=FS, color=TEXT, labelpad=3)
        else:
            ax.set_yticklabels([])
            ax.set_ylabel("")
        ax.set_xlabel("Longitude(°)", fontsize=FS, color=TEXT, labelpad=5)
        ax.set_title(title, fontsize=FS, color=TEXT, pad=8)
        ax.tick_params(axis="both", length=3, width=1, color="#777777", pad=2, left=True, bottom=True)
        ax.tick_params(axis="x", pad=3)

        for spine in ax.spines.values():
            spine.set_visible(True)
            spine.set_color("#999999")
            spine.set_linewidth(1.2)

    cax.tick_params(axis="y", labelsize=FS, labelcolor=TEXT, length=3, width=1, color="#777777", pad=2, right=True)
    cax.set_title("TECU", fontsize=FS, color=TEXT, pad=6)
    for spine in cax.spines.values():
        spine.set_visible(True)
        spine.set_color("#999999")
        spine.set_linewidth(1.2)


fig = plt.figure(figsize=(W / 100, H / 100), dpi=100, facecolor="white")

plot_row(fig, [IGS_A, UPC_A, BCDC_A, IRI_A, SLEPIAN_A], 80, 13.0, 42.45, CBAR_TICKS_A, 66)
plot_row(fig, [IGS_B, UPC_B, BCDC_B, IRI_B, SLEPIAN_B], 1185, 9.76, 18.96, CBAR_TICKS_B, 1170)

fig.text(1776 / W, 1 - 938 / H, r"($\mathbf{a}$)", fontsize=56, family="Liberation Serif",
         color="black", ha="center", va="center")
fig.text(1776 / W, 1 - 2040 / H, r"($\mathbf{b}$)", fontsize=56, family="Liberation Serif",
         color="black", ha="center", va="center")

fig.savefig("out.png", dpi=100)
